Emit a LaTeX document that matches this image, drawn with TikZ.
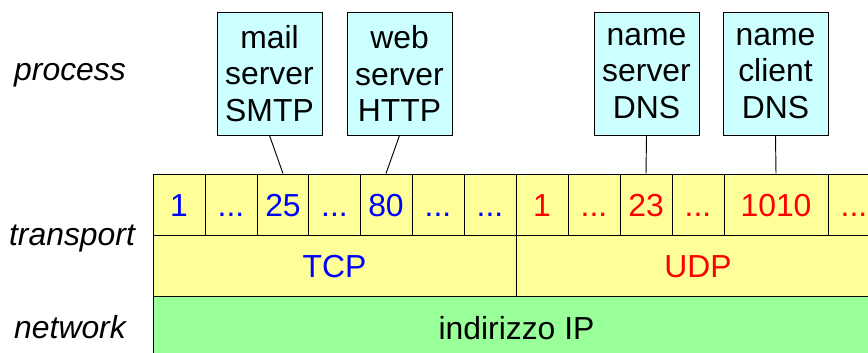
\documentclass[tikz,border=0pt]{standalone}
\usepackage{fontspec}
\setmainfont{Liberation Sans}
\definecolor{appcyan}{HTML}{CCFFFF}
\definecolor{tpyellow}{HTML}{FFFF99}
\definecolor{netgreen}{HTML}{99FF99}
\definecolor{tcpblue}{HTML}{0000FF}
\definecolor{udpred}{HTML}{FF0000}
\begin{document}
\begin{tikzpicture}[
  x=0.03cm, y=-0.03cm,
  big/.style={font=\fontsize{27.2}{31}\selectfont},
  app/.style={draw, line width=0.8pt, fill=appcyan, minimum width=3.15cm, minimum height=3.69cm,
              inner sep=0pt, align=center, big},
  port/.style={draw, line width=0.8pt, fill=tpyellow, minimum width=#1, minimum height=1.83cm,
               inner sep=0pt, text height=0.69cm, text depth=0cm, big},
  proto/.style={draw, line width=0.8pt, fill=tpyellow, minimum width=#1, minimum height=1.83cm,
                inner sep=0pt, text height=0.69cm, text depth=0cm, big},
  layer/.style={big, font=\fontsize{27.2}{31}\selectfont\itshape},
  link/.style={line width=0.8pt}
]
  \useasboundingbox (0,0) rectangle (868,352);

  %-- Livelli
  \node[layer] (lproc)  at (70, 75)  {process};
  \node[layer] (ltrans) at (72, 238) {transport};
  \node[layer] (lnet)   at (70, 327) {network};

  %-- Network
  \node[draw, line width=0.8pt, fill=netgreen, minimum width=21.81cm, minimum height=1.92cm,
        inner sep=0pt, text height=0.69cm, text depth=0cm, big] (ip) at (516.5, 328) {indirizzo IP};

  %-- Transport
  \node[proto=10.89cm, text=tcpblue] (tcp) at (334.5, 265.5) {TCP};
  \node[proto=10.92cm, text=udpred]  (udp) at (698, 265.5)   {UDP};

  %-- Porte TCP
  \node[port=1.56cm, text=tcpblue] (t1)   at (179, 204.5) {1};
  \node[port=1.56cm, text=tcpblue] (t2)   at (231, 204.5) {...};
  \node[port=1.56cm, text=tcpblue] (t25)  at (283, 204.5) {25};
  \node[port=1.56cm, text=tcpblue] (t4)   at (334.5, 204.5) {...};
  \node[port=1.56cm, text=tcpblue] (t80)  at (386, 204.5) {80};
  \node[port=1.56cm, text=tcpblue] (t6)   at (438, 204.5) {...};
  \node[port=1.56cm, text=tcpblue] (t7)   at (490, 204.5) {...};

  %-- Porte UDP
  \node[port=1.56cm, text=udpred] (u1)    at (542, 204.5) {1};
  \node[port=1.56cm, text=udpred] (u2)    at (594, 204.5) {...};
  \node[port=1.56cm, text=udpred] (u23)   at (646, 204.5) {23};
  \node[port=1.56cm, text=udpred] (u4)    at (698, 204.5) {...};
  \node[port=3.12cm, text=udpred] (u1010) at (776, 204.5) {1010};
  \node[port=1.56cm, text=udpred] (u6)    at (854, 204.5) {...};

  %-- Processi
  \node[app] (smtp) at (269.5, 73.5) {mail\\server\\SMTP};
  \node[app] (http) at (399.5, 73.5) {web\\server\\HTTP};
  \node[app] (dnss) at (646.5, 73.5) {name\\server\\DNS};
  \node[app] (dnsc) at (775.5, 73.5) {name\\client\\DNS};

  %-- Collegamenti
  \draw[link] (smtp.south) -- (t25.north);
  \draw[link] (http.south) -- (t80.north);
  \draw[link] (dnss.south) -- (u23.north);
  \draw[link] (dnsc.south) -- (u1010.north);
\end{tikzpicture}
\end{document}
